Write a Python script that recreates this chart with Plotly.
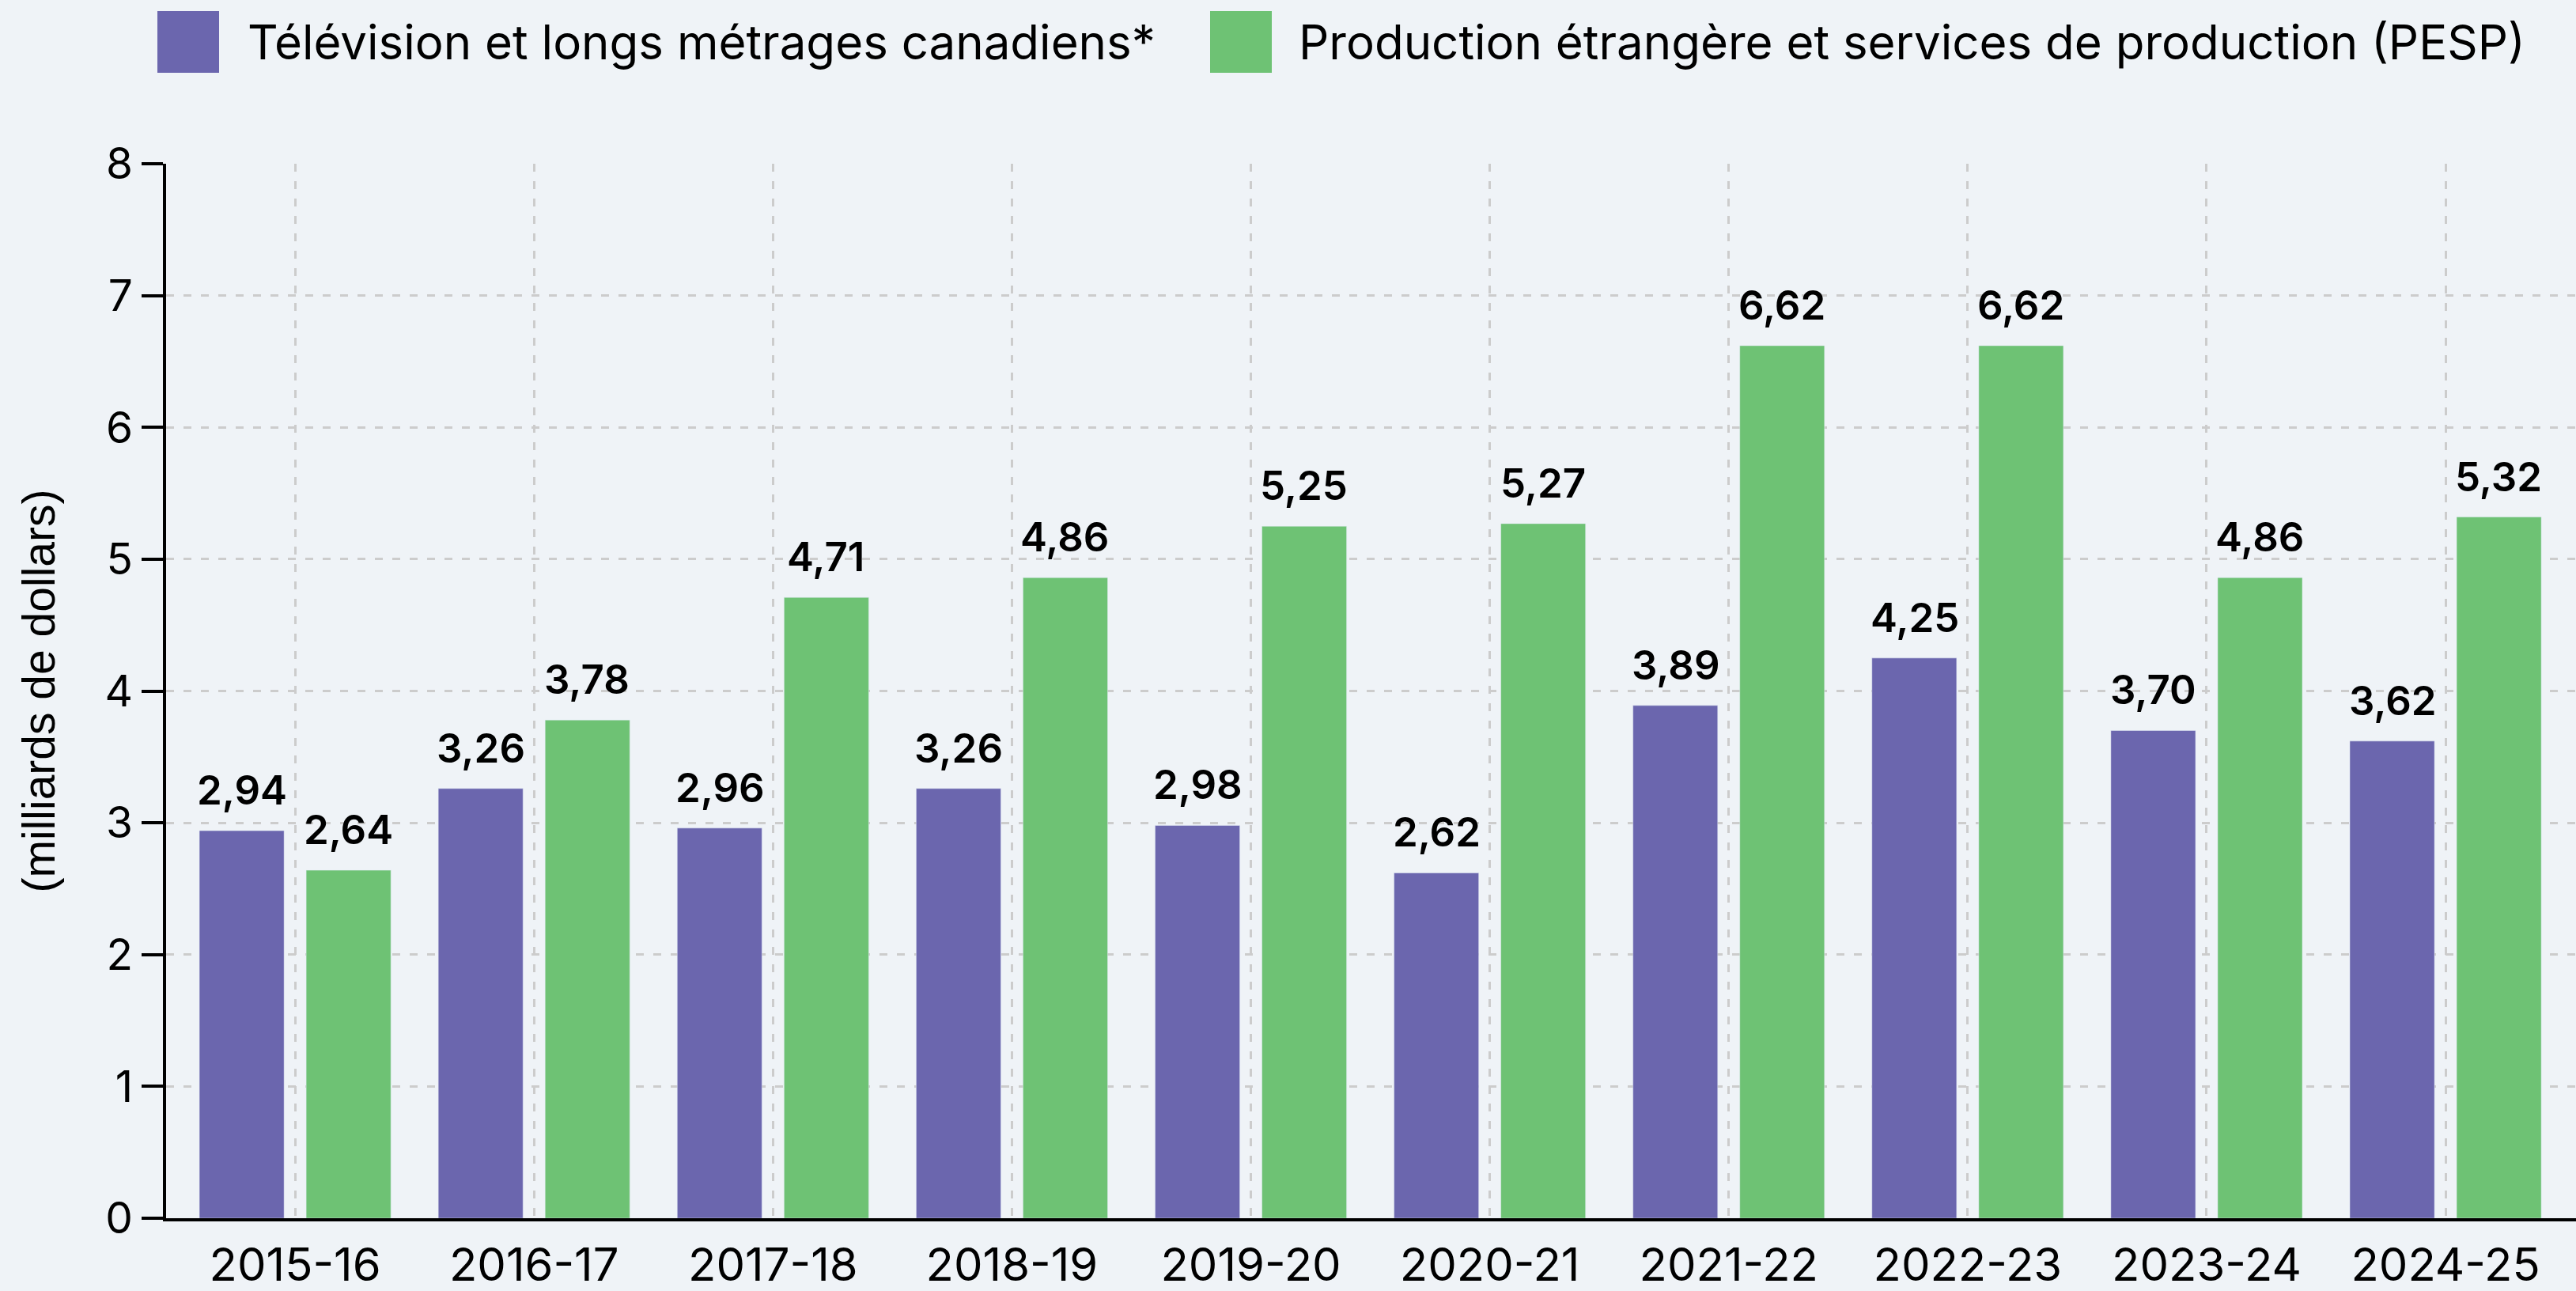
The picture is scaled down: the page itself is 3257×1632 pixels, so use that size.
import plotly.graph_objects as go

# données (milliards de dollars)
years = ["2015-16", "2016-17", "2017-18", "2018-19", "2019-20",
         "2020-21", "2021-22", "2022-23", "2023-24", "2024-25"]
canadiens = [2.94, 3.26, 2.96, 3.26, 2.98, 2.62, 3.89, 4.25, 3.70, 3.62]
pesp = [2.64, 3.78, 4.71, 4.86, 5.25, 5.27, 6.62, 6.62, 4.86, 5.32]
y_ticks = [0, 1, 2, 3, 4, 5, 6, 7, 8]

name_can = "Télévision et longs métrages canadiens*"
name_pesp = "Production étrangère et services de production (PESP)"

PURPLE = "#6B66AE"
GREEN = "#6EC274"
BG = "#EFF3F7"
FONT = "Inter"

W, H = 3257, 1632
L, R, T, B = 210, 3257, 207, 1540


def px_x(x):
    return (x - L) / (R - L)


def px_y(y):
    return (B - y) / (B - T)


def fmt(v):
    return f"{v:.2f}".replace(".", ",")


fig = go.Figure()
fig.add_trace(go.Bar(x=years, y=canadiens, name=name_can, marker_color=PURPLE))
fig.add_trace(go.Bar(x=years, y=pesp, name=name_pesp, marker_color=GREEN))

annotations = []
# étiquettes des barres
for vals, shift in [(canadiens, -67), (pesp, 67)]:
    for yr, v in zip(years, vals):
        annotations.append(dict(
            x=yr, y=v, xref="x", yref="y", text=fmt(v), showarrow=False,
            xshift=shift, yshift=19, yanchor="bottom",
            font=dict(family=FONT, size=51, color="black", weight=600),
        ))

# légende personnalisée
shapes = []
for x0, col in [(199, PURPLE), (1530, GREEN)]:
    shapes.append(dict(
        type="rect", xref="paper", yref="paper",
        x0=px_x(x0), x1=px_x(x0 + 78), y0=px_y(92), y1=px_y(14),
        fillcolor=col, line=dict(width=0),
    ))
for x0, txt in [(311, name_can), (1640, name_pesp)]:
    annotations.append(dict(
        x=px_x(x0), y=px_y(53), xref="paper", yref="paper", text=txt,
        showarrow=False, xanchor="left", yanchor="middle",
        font=dict(family=FONT, size=60, color="black"),
    ))

fig.update_layout(
    width=W, height=H,
    margin=dict(l=L, r=W - R, t=T, b=H - B),
    paper_bgcolor=BG, plot_bgcolor=BG,
    showlegend=False,
    barmode="group", bargap=0.106, bargroupgap=0.207,
    font=dict(family=FONT, size=56, color="black"),
    shapes=shapes, annotations=annotations,
    xaxis=dict(
        range=[-0.54, 9.546], automargin=False,
        showline=True, linecolor="black", linewidth=4,
        showgrid=True, gridcolor="#CCCCCC", gridwidth=2.5, griddash="10px,12px",
        ticks="", tickfont=dict(family=FONT, size=58), ticklabelstandoff=5,
    ),
    yaxis=dict(
        range=[0, 8], tickvals=y_ticks, automargin=False,
        showline=True, linecolor="black", linewidth=4,
        ticks="outside", ticklen=27, tickwidth=4, tickcolor="black",
        showgrid=True, gridcolor="#CCCCCC", gridwidth=2.5, griddash="10px,12px",
        zeroline=False, tickfont=dict(family=FONT, size=55),
        title=dict(text="(milliards de dollars)", standoff=46,
                   font=dict(family="Liberation Sans", size=57)),
    ),
)

fig.write_html("out.html", config={"displayModeBar": False},
               post_script="document.body.style.margin='0';")
